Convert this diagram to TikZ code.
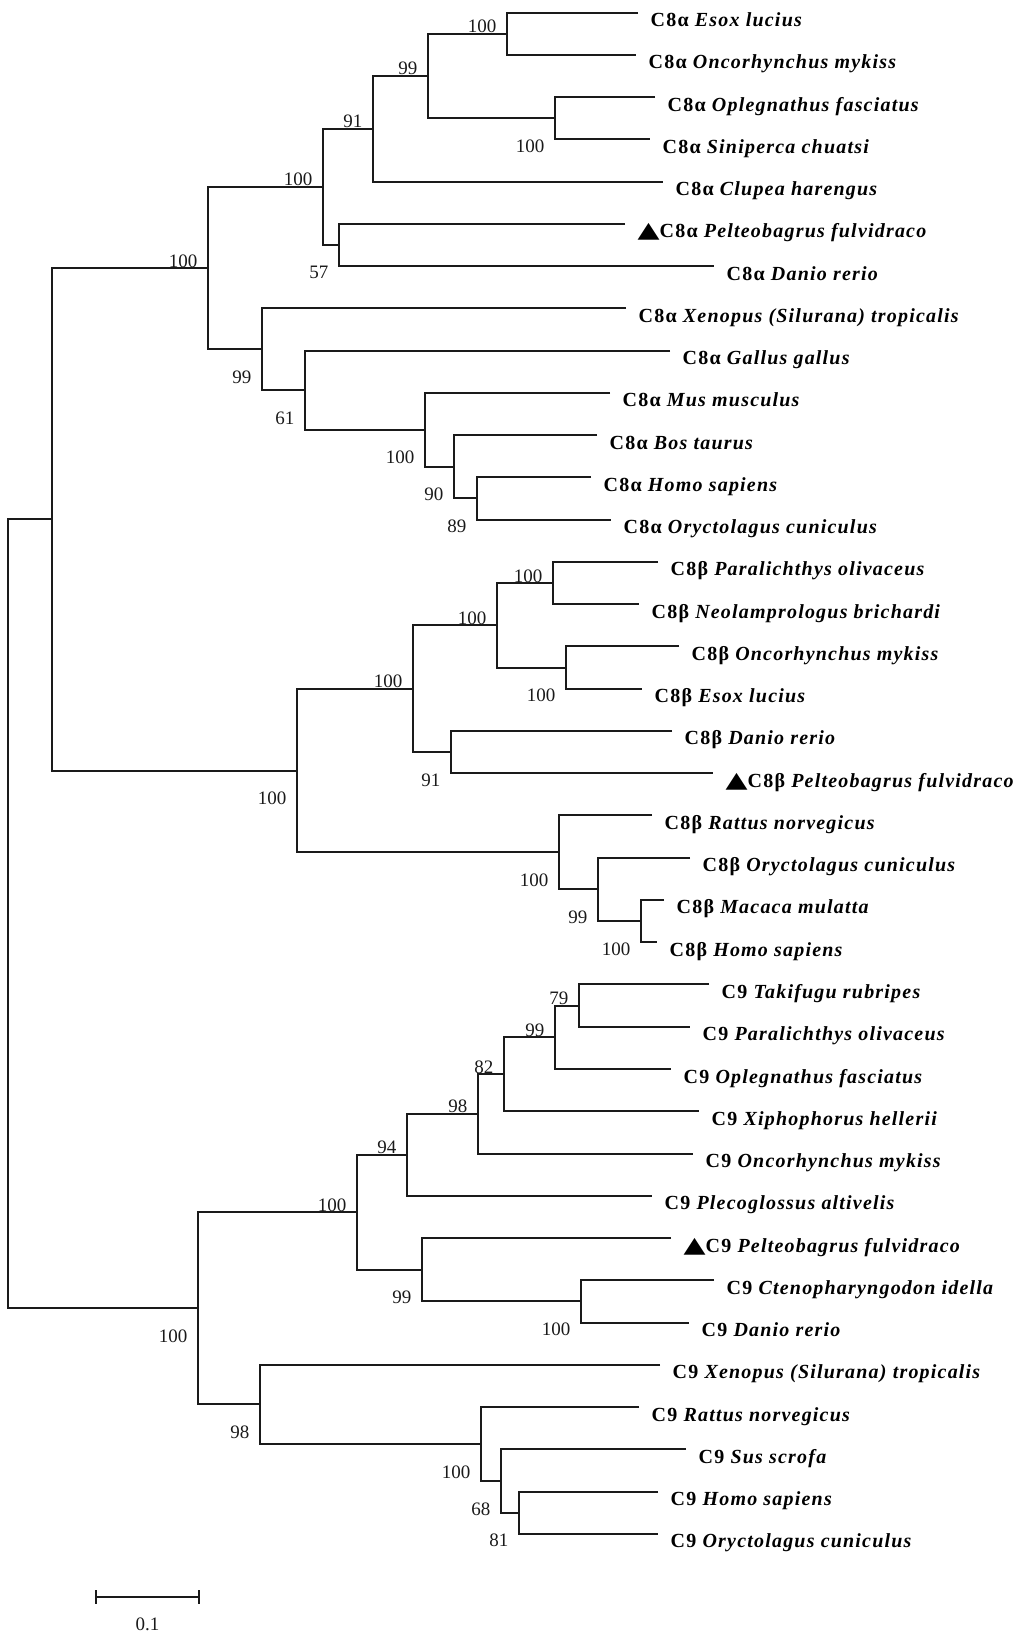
\documentclass[tikz,border=0pt]{standalone}
\usepackage{fontspec}
\usepackage{graphicx}
\setmainfont{Liberation Serif}
\newfontfamily\phylolabelfont{Liberation Serif}[LetterSpace=6]
\newfontfamily\phylosymfont{DejaVu Sans}
\usepackage{tikz}
\usetikzlibrary{positioning}
\definecolor{phyloink}{HTML}{1A1A1A}
\newcommand\phylotri{{\phylosymfont\fontsize{22}{22}\selectfont\scalebox{1.3}[1]{▲}}}
\tikzset{%
  phylobranch/.style={%
    draw=phyloink,
    line width=2pt
  },
  phyloleaf/.style={%
    anchor=base west,
    inner sep=0pt,
    xshift=12.5pt,
    yshift=-14pt,
    font=\phylolabelfont\fontsize{20}{20}\selectfont\bfseries
  },
  phylobootbase/.style={%
    anchor=base east,
    inner sep=0pt,
    xshift=-10.5pt,
    text=phyloink,
    font=\fontsize{19}{19}\selectfont
  },
  phylobootup/.style={phylobootbase,yshift=1pt},
  phylobootdown/.style={phylobootbase,yshift=-34pt}
}

\begin{document}
\begin{tikzpicture}[x=1pt,y=-42.26pt]
    \useasboundingbox (0pt,12.5pt) rectangle (1024pt,-1628.5pt);

    \coordinate (a1) at (638,0);
    \coordinate (a2) at (636,1);
    \coordinate (a3) at (655,2);
    \coordinate (a4) at (650,3);
    \coordinate (a5) at (663,4);
    \coordinate (a6) at (625,5);
    \coordinate (a7) at (714,6);
    \coordinate (a8) at (626,7);
    \coordinate (a9) at (670,8);
    \coordinate (a10) at (610,9);
    \coordinate (a11) at (597,10);
    \coordinate (a12) at (591,11);
    \coordinate (a13) at (611,12);
    \coordinate (b1) at (658,13);
    \coordinate (b2) at (639,14);
    \coordinate (b3) at (679,15);
    \coordinate (b4) at (642,16);
    \coordinate (b5) at (672,17);
    \coordinate (b6) at (713,18);
    \coordinate (b7) at (652,19);
    \coordinate (b8) at (690,20);
    \coordinate (b9) at (664,21);
    \coordinate (b10) at (657,22);
    \coordinate (c1) at (709,23);
    \coordinate (c2) at (690,24);
    \coordinate (c3) at (671,25);
    \coordinate (c4) at (699,26);
    \coordinate (c5) at (693,27);
    \coordinate (c6) at (652,28);
    \coordinate (c7) at (671,29);
    \coordinate (c8) at (714,30);
    \coordinate (c9) at (689,31);
    \coordinate (c10) at (660,32);
    \coordinate (c11) at (639,33);
    \coordinate (c12) at (686,34);
    \coordinate (c13) at (658,35);
    \coordinate (c14) at (658,36);

    \coordinate (na1) at (507,0.5);
    \coordinate (na2) at (555,2.5);
    \coordinate (na3) at (428,1.5);
    \coordinate (na4) at (373,2.75);
    \coordinate (na5) at (339,5.5);
    \coordinate (na6) at (323,4.125);
    \coordinate (na7) at (477,11.5);
    \coordinate (na8) at (454,10.75);
    \coordinate (na9) at (425,9.875);
    \coordinate (na10) at (305,8.9375);
    \coordinate (na11) at (262,7.96875);
    \coordinate (na12) at (208,6.046875);
    \coordinate (nb1) at (553,13.5);
    \coordinate (nb2) at (566,15.5);
    \coordinate (nb3) at (497,14.5);
    \coordinate (nb4) at (451,17.5);
    \coordinate (nb5) at (413,16);
    \coordinate (nb6) at (641,21.5);
    \coordinate (nb7) at (598,20.75);
    \coordinate (nb8) at (559,19.875);
    \coordinate (nb9) at (297,17.9375);
    \coordinate (nab) at (52,11.9921875);
    \coordinate (nc1) at (579,23.5);
    \coordinate (nc2) at (555,24.25);
    \coordinate (nc3) at (504,25.125);
    \coordinate (nc4) at (478,26.0625);
    \coordinate (nc5) at (407,27.03125);
    \coordinate (nc6) at (581,30.5);
    \coordinate (nc7) at (422,29.75);
    \coordinate (nc8) at (357,28.390625);
    \coordinate (nc9) at (519,35.5);
    \coordinate (nc10) at (501,34.75);
    \coordinate (nc11) at (481,33.875);
    \coordinate (nc12) at (260,32.9375);
    \coordinate (nc13) at (198,30.6640625);
    \coordinate (root) at (7.5,21.328125);

    \node[phyloleaf] (la1) at (a1) {C8α \textit{Esox lucius}};
    \node[phyloleaf] (la2) at (a2) {C8α \textit{Oncorhynchus mykiss}};
    \node[phyloleaf] (la3) at (a3) {C8α \textit{Oplegnathus fasciatus}};
    \node[phyloleaf] (la4) at (a4) {C8α \textit{Siniperca chuatsi}};
    \node[phyloleaf] (la5) at (a5) {C8α \textit{Clupea harengus}};
    \node[phyloleaf] (la6) at (a6) {\phylotri C8α \textit{Pelteobagrus fulvidraco}};
    \node[phyloleaf] (la7) at (a7) {C8α \textit{Danio rerio}};
    \node[phyloleaf] (la8) at (a8) {C8α \textit{Xenopus (Silurana) tropicalis}};
    \node[phyloleaf] (la9) at (a9) {C8α \textit{Gallus gallus}};
    \node[phyloleaf] (la10) at (a10) {C8α \textit{Mus musculus}};
    \node[phyloleaf] (la11) at (a11) {C8α \textit{Bos taurus}};
    \node[phyloleaf] (la12) at (a12) {C8α \textit{Homo sapiens}};
    \node[phyloleaf] (la13) at (a13) {C8α \textit{Oryctolagus cuniculus}};
    \node[phyloleaf] (lb1) at (b1) {C8β \textit{Paralichthys olivaceus}};
    \node[phyloleaf] (lb2) at (b2) {C8β \textit{Neolamprologus brichardi}};
    \node[phyloleaf] (lb3) at (b3) {C8β \textit{Oncorhynchus mykiss}};
    \node[phyloleaf] (lb4) at (b4) {C8β \textit{Esox lucius}};
    \node[phyloleaf] (lb5) at (b5) {C8β \textit{Danio rerio}};
    \node[phyloleaf] (lb6) at (b6) {\phylotri C8β \textit{Pelteobagrus fulvidraco}};
    \node[phyloleaf] (lb7) at (b7) {C8β \textit{Rattus norvegicus}};
    \node[phyloleaf] (lb8) at (b8) {C8β \textit{Oryctolagus cuniculus}};
    \node[phyloleaf] (lb9) at (b9) {C8β \textit{Macaca mulatta}};
    \node[phyloleaf] (lb10) at (b10) {C8β \textit{Homo sapiens}};
    \node[phyloleaf] (lc1) at (c1) {C9 \textit{Takifugu rubripes}};
    \node[phyloleaf] (lc2) at (c2) {C9 \textit{Paralichthys olivaceus}};
    \node[phyloleaf] (lc3) at (c3) {C9 \textit{Oplegnathus fasciatus}};
    \node[phyloleaf] (lc4) at (c4) {C9 \textit{Xiphophorus hellerii}};
    \node[phyloleaf] (lc5) at (c5) {C9 \textit{Oncorhynchus mykiss}};
    \node[phyloleaf] (lc6) at (c6) {C9 \textit{Plecoglossus altivelis}};
    \node[phyloleaf] (lc7) at (c7) {\phylotri C9 \textit{Pelteobagrus fulvidraco}};
    \node[phyloleaf] (lc8) at (c8) {C9 \textit{Ctenopharyngodon idella}};
    \node[phyloleaf] (lc9) at (c9) {C9 \textit{Danio rerio}};
    \node[phyloleaf] (lc10) at (c10) {C9 \textit{Xenopus (Silurana) tropicalis}};
    \node[phyloleaf] (lc11) at (c11) {C9 \textit{Rattus norvegicus}};
    \node[phyloleaf] (lc12) at (c12) {C9 \textit{Sus scrofa}};
    \node[phyloleaf] (lc13) at (c13) {C9 \textit{Homo sapiens}};
    \node[phyloleaf] (lc14) at (c14) {C9 \textit{Oryctolagus cuniculus}};

    \node[phylobootup] (ba1) at (na1) {100};
    \node[phylobootdown] (ba2) at (na2) {100};
    \node[phylobootup] (ba3) at (na3) {99};
    \node[phylobootup] (ba4) at (na4) {91};
    \node[phylobootdown] (ba5) at (na5) {57};
    \node[phylobootup] (ba6) at (na6) {100};
    \node[phylobootdown] (ba7) at (na7) {89};
    \node[phylobootdown] (ba8) at (na8) {90};
    \node[phylobootdown] (ba9) at (na9) {100};
    \node[phylobootdown] (ba10) at (na10) {61};
    \node[phylobootdown] (ba11) at (na11) {99};
    \node[phylobootup] (ba12) at (na12) {100};
    \node[phylobootup] (bb1) at (nb1) {100};
    \node[phylobootdown] (bb2) at (nb2) {100};
    \node[phylobootup] (bb3) at (nb3) {100};
    \node[phylobootdown] (bb4) at (nb4) {91};
    \node[phylobootup] (bb5) at (nb5) {100};
    \node[phylobootdown] (bb6) at (nb6) {100};
    \node[phylobootdown] (bb7) at (nb7) {99};
    \node[phylobootdown] (bb8) at (nb8) {100};
    \node[phylobootdown] (bb9) at (nb9) {100};
    \node[phylobootup] (bc1) at (nc1) {79};
    \node[phylobootup] (bc2) at (nc2) {99};
    \node[phylobootup] (bc3) at (nc3) {82};
    \node[phylobootup] (bc4) at (nc4) {98};
    \node[phylobootup] (bc5) at (nc5) {94};
    \node[phylobootdown] (bc6) at (nc6) {100};
    \node[phylobootdown] (bc7) at (nc7) {99};
    \node[phylobootup] (bc8) at (nc8) {100};
    \node[phylobootdown] (bc9) at (nc9) {81};
    \node[phylobootdown] (bc10) at (nc10) {68};
    \node[phylobootdown] (bc11) at (nc11) {100};
    \node[phylobootdown] (bc12) at (nc12) {98};
    \node[phylobootdown] (bc13) at (nc13) {100};

    \draw[phylobranch] (a1) -| (na1) |- (a2);
    \draw[phylobranch] (a3) -| (na2) |- (a4);
    \draw[phylobranch] (na1) -| (na3) |- (na2);
    \draw[phylobranch] (na3) -| (na4) |- (a5);
    \draw[phylobranch] (a6) -| (na5) |- (a7);
    \draw[phylobranch] (na4) -| (na6) |- (na5);
    \draw[phylobranch] (a12) -| (na7) |- (a13);
    \draw[phylobranch] (a11) -| (na8) |- (na7);
    \draw[phylobranch] (a10) -| (na9) |- (na8);
    \draw[phylobranch] (a9) -| (na10) |- (na9);
    \draw[phylobranch] (a8) -| (na11) |- (na10);
    \draw[phylobranch] (na6) -| (na12) |- (na11);
    \draw[phylobranch] (b1) -| (nb1) |- (b2);
    \draw[phylobranch] (b3) -| (nb2) |- (b4);
    \draw[phylobranch] (nb1) -| (nb3) |- (nb2);
    \draw[phylobranch] (b5) -| (nb4) |- (b6);
    \draw[phylobranch] (nb3) -| (nb5) |- (nb4);
    \draw[phylobranch] (b9) -| (nb6) |- (b10);
    \draw[phylobranch] (b8) -| (nb7) |- (nb6);
    \draw[phylobranch] (b7) -| (nb8) |- (nb7);
    \draw[phylobranch] (nb5) -| (nb9) |- (nb8);
    \draw[phylobranch] (na12) -| (nab) |- (nb9);
    \draw[phylobranch] (c1) -| (nc1) |- (c2);
    \draw[phylobranch] (nc1) -| (nc2) |- (c3);
    \draw[phylobranch] (nc2) -| (nc3) |- (c4);
    \draw[phylobranch] (nc3) -| (nc4) |- (c5);
    \draw[phylobranch] (nc4) -| (nc5) |- (c6);
    \draw[phylobranch] (c8) -| (nc6) |- (c9);
    \draw[phylobranch] (c7) -| (nc7) |- (nc6);
    \draw[phylobranch] (nc5) -| (nc8) |- (nc7);
    \draw[phylobranch] (c13) -| (nc9) |- (c14);
    \draw[phylobranch] (c12) -| (nc10) |- (nc9);
    \draw[phylobranch] (c11) -| (nc11) |- (nc10);
    \draw[phylobranch] (c10) -| (nc12) |- (nc11);
    \draw[phylobranch] (nc8) -| (nc13) |- (nc12);
    \draw[phylobranch] (nab) -| (root) |- (nc13);

    \coordinate (sbl) at (96,37.5);
    \coordinate (sbr) at (199,37.5);
    \coordinate (sbm) at (147.5,37.5);
    \node[phylobootbase,anchor=north,xshift=10.5pt,below=20pt of sbm] (sblab) {0.1};
    \draw[phylobranch] (sbl) -- (sbr);
    \draw[phylobranch] ([yshift=7pt]sbl) -- ([yshift=-7pt]sbl);
    \draw[phylobranch] ([yshift=7pt]sbr) -- ([yshift=-7pt]sbr);
  \end{tikzpicture}
\end{document}
